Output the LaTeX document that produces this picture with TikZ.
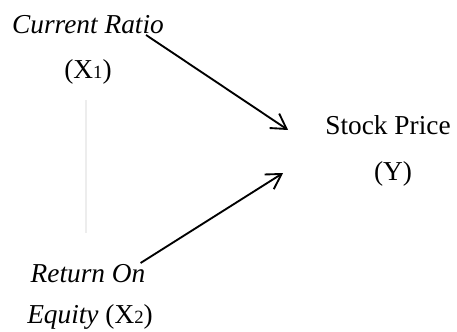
\documentclass[tikz,border=0pt]{standalone}
\usepackage{fontspec}
\setmainfont{Liberation Serif}
\usetikzlibrary{arrows.meta,calc}

\newcommand{\idx}[1]{{\fontsize{14}{16}\selectfont #1}}

\begin{document}
\begin{tikzpicture}[x=0.75pt,y=-0.75pt,font=\fontsize{20.5}{24}\selectfont]
\tikzset{var/.style={inner sep=0pt,anchor=base},
  link/.style={-{Straight Barb[length=11pt,width=13pt]},line width=1.4pt},
  faint/.style={black!7,line width=0.8pt}}
\useasboundingbox (0,0) rectangle (457,332);
% independent variables
\node[var] (cr) at (88,33) {\textit{Current Ratio}};
\node[var] (x1) at (88,78) {(X\idx{1})};
\node[var] (roe) at (88,282) {\textit{Return On}};
\node[var] (x2) at (90,323) {\textit{Equity} (X\idx{2})};
% dependent variable
\node[var] (sp) at (388,134) {Stock Price};
\node[var] (y) at (393,180) {(Y)};

\coordinate (cr-out) at ($(cr.base east)+(-18,2)$);
\coordinate (roe-out) at ($(roe.base east)+(-5,-19)$);
\coordinate (sp-in1) at ($(sp.base west)+(-37,-4)$);
\coordinate (sp-in2) at ($(sp.base west)+(-42,39)$);

\draw[link] (cr-out) -- (sp-in1);
\draw[link] (roe-out) -- (sp-in2);
\draw[faint] ($(x1.base)+(-2,22)$) -- ($(roe.base)+(-2,-49)$);
\end{tikzpicture}
\end{document}
